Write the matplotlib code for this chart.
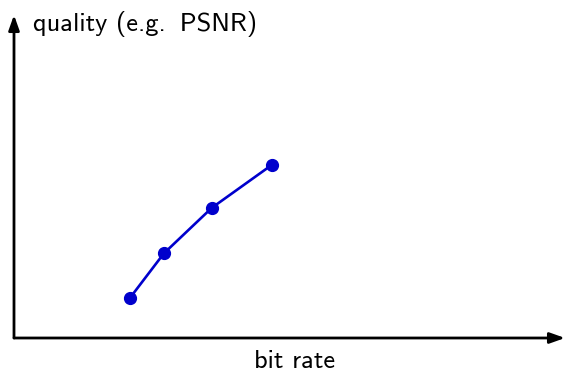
import matplotlib
matplotlib.use("Agg")
import matplotlib.pyplot as plt

# Rate-distortion operating points (arbitrary units)
bit_rate = [2.10, 2.72, 3.59, 4.68]
quality = [1.23, 2.62, 4.03, 5.36]

x_label = "bit rate"
y_label = "quality (e.g.\u2009 PSNR)"

plt.rcParams["font.family"] = ["cmss10", "DejaVu Sans"]
plt.rcParams["axes.unicode_minus"] = False

W, H = 567, 374
fig = plt.figure(figsize=(W / 100, H / 100), dpi=100)
ax = fig.add_axes([14 / W, 36 / H, 551 / W, 323 / H])
ax.set_xlim(0, 10)
ax.set_ylim(0, 10)
ax.axis("off")

arrow_kw = dict(arrowstyle="-|>,head_length=0.9,head_width=0.32",
                color="black", lw=2.0, shrinkA=0, shrinkB=0)
ax.annotate("", xy=(1, 0), xytext=(0, 0), xycoords="axes fraction",
            arrowprops=arrow_kw)
ax.annotate("", xy=(0, 1), xytext=(0, 0), xycoords="axes fraction",
            arrowprops=arrow_kw)

ax.plot(bit_rate, quality, color="#0000cc", lw=1.9, marker="o",
        markersize=8.5, clip_on=False)

fig.text(33 / W, 1 - 24 / H, y_label, fontsize=19, ha="left", va="center")
fig.text(295 / W, 1 - 362 / H, x_label, fontsize=19, ha="center", va="center")

fig.savefig("out.png", dpi=100)
